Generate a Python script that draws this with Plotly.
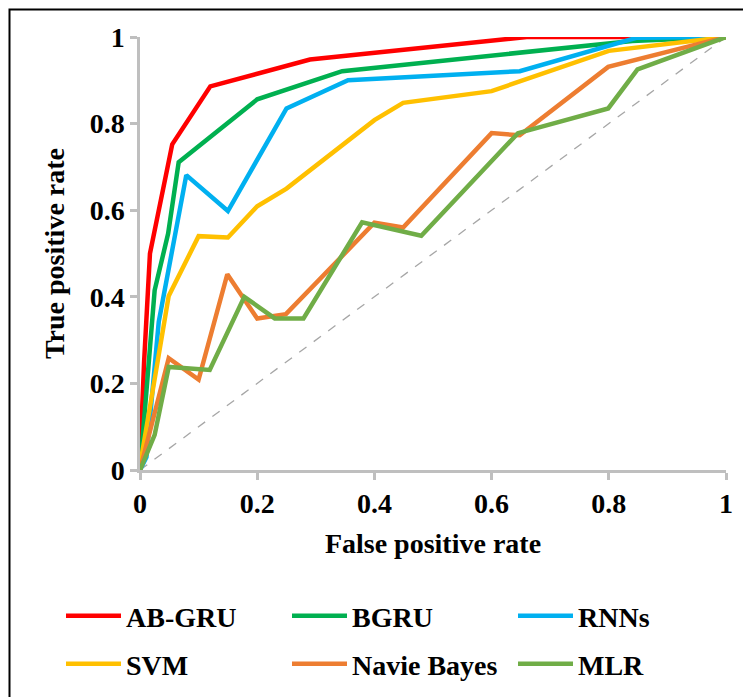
import plotly.graph_objects as go

# ---- data ----
ab_gru_fpr = [0, 0.007, 0.017, 0.055, 0.12, 0.29, 0.66, 1.0]
ab_gru_tpr = [0.02, 0.25, 0.50, 0.752, 0.886, 0.948, 1.0, 1.0]

bgru_fpr = [0, 0.025, 0.048, 0.066, 0.20, 0.345, 0.84, 1.0]
bgru_tpr = [0, 0.415, 0.546, 0.711, 0.856, 0.921, 0.991, 1.0]

rnn_fpr = [0, 0.011, 0.032, 0.079, 0.15, 0.25, 0.355, 0.648, 0.847, 1.0]
rnn_tpr = [0, 0.03, 0.342, 0.681, 0.598, 0.835, 0.90, 0.921, 0.998, 1.0]

svm_fpr = [0, 0.049, 0.10, 0.15, 0.20, 0.25, 0.40, 0.449, 0.60, 0.80, 1.0]
svm_tpr = [0.01, 0.402, 0.54, 0.537, 0.609, 0.65, 0.808, 0.848, 0.875, 0.968, 1.0]

nb_fpr = [0, 0.049, 0.10, 0.149, 0.20, 0.249, 0.40, 0.449, 0.60, 0.648, 0.799, 1.0]
nb_tpr = [0, 0.258, 0.209, 0.452, 0.35, 0.36, 0.571, 0.56, 0.778, 0.773, 0.931, 1.0]

mlr_fpr = [0, 0.025, 0.049, 0.119, 0.178, 0.23, 0.279, 0.379, 0.48, 0.645, 0.799, 0.849, 1.0]
mlr_tpr = [0, 0.081, 0.238, 0.231, 0.40, 0.35, 0.35, 0.572, 0.541, 0.778, 0.835, 0.925, 1.0]

diag = [0, 1]

series_row1 = [
    ("AB-GRU", ab_gru_fpr, ab_gru_tpr, "#ff0000"),
    ("BGRU", bgru_fpr, bgru_tpr, "#00b050"),
    ("RNNs", rnn_fpr, rnn_tpr, "#00b0f0"),
]
series_row2 = [
    ("SVM", svm_fpr, svm_tpr, "#ffc000"),
    ("Navie Bayes", nb_fpr, nb_tpr, "#ed7d31"),
    ("MLR", mlr_fpr, mlr_tpr, "#70ad47"),
]

ticks = [0, 0.2, 0.4, 0.6, 0.8, 1]
tick_text = ["0", "0.2", "0.4", "0.6", "0.8", "1"]

FONT = "Liberation Serif, Times New Roman, DejaVu Serif, serif"

# page offset of the plotly div (browser body margin)
OFF = 8
L, T = 140 - OFF, 37 - OFF
W_PLOT, H_PLOT = 586, 433


def px_x(p):
    return (p - OFF - L) / W_PLOT


def px_y(p):
    return (T + H_PLOT - (p - OFF)) / H_PLOT


fig = go.Figure()
fig.add_trace(go.Scatter(x=diag, y=diag, mode="lines", showlegend=False,
                         line=dict(color="#a6a6a6", width=1.3, dash="dash"),
                         hoverinfo="skip"))
for name, xs, ys, col in series_row1:
    fig.add_trace(go.Scatter(x=xs, y=ys, mode="lines", name=name, legend="legend",
                             line=dict(color=col, width=4.5), cliponaxis=False))
for name, xs, ys, col in series_row2:
    fig.add_trace(go.Scatter(x=xs, y=ys, mode="lines", name=name, legend="legend2",
                             line=dict(color=col, width=4.5), cliponaxis=False))

tfont = dict(family=FONT, size=28, color="black", weight="bold")

axis_common = dict(
    range=[0, 1], showgrid=False, zeroline=False, showline=True,
    linecolor="#bfbfbf", linewidth=2.5, ticks="outside", tickcolor="#bfbfbf",
    ticklen=7, tickwidth=2.5, tickvals=ticks, ticktext=tick_text,
    tickfont=tfont,
)

leg_common = dict(
    orientation="h", xanchor="left", yanchor="middle",
    font=tfont,
    bgcolor="rgba(0,0,0,0)", itemwidth=55, entrywidth=156, entrywidthmode="pixels",
    traceorder="normal",
)

fig.update_layout(
    width=751, height=697 + OFF,
    margin=dict(l=L, r=751 - L - W_PLOT, t=T, b=697 + OFF - T - H_PLOT),
    paper_bgcolor="white", plot_bgcolor="white",
    xaxis=dict(**axis_common, title=dict(text="False positive rate", standoff=16, font=tfont)),
    yaxis=dict(**axis_common, title=dict(text="True positive rate", standoff=17, font=tfont)),
    legend=dict(**leg_common, x=px_x(61), y=px_y(616)),
    legend2=dict(**leg_common, x=px_x(61), y=px_y(664)),
    shapes=[dict(type="rect", xref="paper", yref="paper",
                 x0=px_x(9.5), x1=px_x(790),
                 y0=px_y(760), y1=px_y(9.5),
                 line=dict(color="black", width=2), fillcolor="rgba(0,0,0,0)",
                 layer="below")],
)

fig.write_html("out.html")
